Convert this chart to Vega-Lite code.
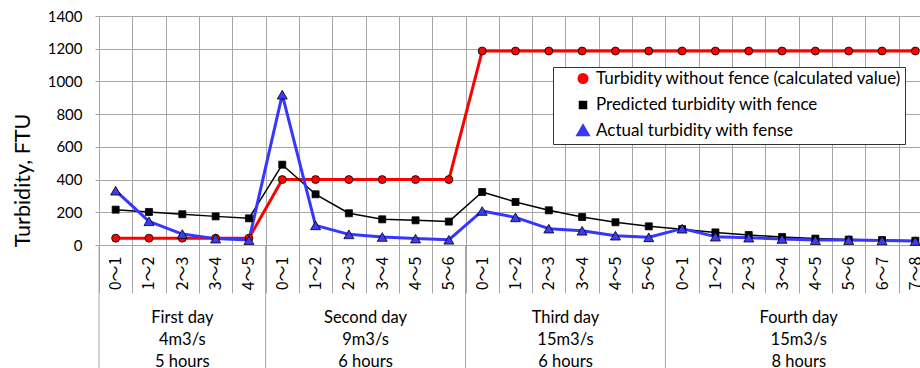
{
  "$schema": "https://vega.github.io/schema/vega-lite/v6.json",
  "width": 821,
  "height": 229,
  "autosize": {"type": "none"},
  "padding": {"left": 99, "top": 16, "right": 0, "bottom": 123},
  "background": "white",
  "config": {
    "view": {"stroke": null},
    "font": "Lato",
    "axisY": {
      "labelOverlap": false,
      "titleFontSize": 21.5,
      "titleFontWeight": "normal",
      "titleColor": "#000",
      "titleAngle": -90,
      "titleX": -76,
      "titleY": 164,
      "titleAlign": "center",
      "titleBaseline": "middle",
      "labelFontSize": 15,
      "labelColor": "#000",
      "labelPadding": 13,
      "tickSize": 4,
      "tickColor": "#a6a6a6",
      "domainColor": "#a6a6a6",
      "grid": true,
      "gridColor": "#a6a6a6",
      "gridOpacity": 1
    }
  },
  "datasets": {
    "main": [
      {"slot": "d1|0～1", "Turbidity without fence (calculated value)": 42, "Predicted turbidity with fence": 216, "Actual turbidity with fense": 332},
      {"slot": "d1|1～2", "Turbidity without fence (calculated value)": 42, "Predicted turbidity with fence": 202, "Actual turbidity with fense": 145},
      {"slot": "d1|2～3", "Turbidity without fence (calculated value)": 42, "Predicted turbidity with fence": 188, "Actual turbidity with fense": 67},
      {"slot": "d1|3～4", "Turbidity without fence (calculated value)": 42, "Predicted turbidity with fence": 175, "Actual turbidity with fense": 39},
      {"slot": "d1|4～5", "Turbidity without fence (calculated value)": 42, "Predicted turbidity with fence": 163, "Actual turbidity with fense": 30},
      {"slot": "d2|0～1", "Turbidity without fence (calculated value)": 400, "Predicted turbidity with fence": 491, "Actual turbidity with fense": 919},
      {"slot": "d2|1～2", "Turbidity without fence (calculated value)": 400, "Predicted turbidity with fence": 310, "Actual turbidity with fense": 120},
      {"slot": "d2|2～3", "Turbidity without fence (calculated value)": 400, "Predicted turbidity with fence": 194, "Actual turbidity with fense": 65},
      {"slot": "d2|3～4", "Turbidity without fence (calculated value)": 400, "Predicted turbidity with fence": 157, "Actual turbidity with fense": 49},
      {"slot": "d2|4～5", "Turbidity without fence (calculated value)": 400, "Predicted turbidity with fence": 151, "Actual turbidity with fense": 39},
      {"slot": "d2|5～6", "Turbidity without fence (calculated value)": 400, "Predicted turbidity with fence": 143, "Actual turbidity with fense": 32},
      {"slot": "d3|0～1", "Turbidity without fence (calculated value)": 1186, "Predicted turbidity with fence": 324, "Actual turbidity with fense": 208},
      {"slot": "d3|1～2", "Turbidity without fence (calculated value)": 1186, "Predicted turbidity with fence": 263, "Actual turbidity with fense": 169},
      {"slot": "d3|2～3", "Turbidity without fence (calculated value)": 1186, "Predicted turbidity with fence": 212, "Actual turbidity with fense": 100},
      {"slot": "d3|3～4", "Turbidity without fence (calculated value)": 1186, "Predicted turbidity with fence": 171, "Actual turbidity with fense": 87},
      {"slot": "d3|4～5", "Turbidity without fence (calculated value)": 1186, "Predicted turbidity with fence": 139, "Actual turbidity with fense": 57},
      {"slot": "d3|5～6", "Turbidity without fence (calculated value)": 1186, "Predicted turbidity with fence": 114, "Actual turbidity with fense": 47},
      {"slot": "d4|0～1", "Turbidity without fence (calculated value)": 1186, "Predicted turbidity with fence": 97, "Actual turbidity with fense": 100},
      {"slot": "d4|1～2", "Turbidity without fence (calculated value)": 1186, "Predicted turbidity with fence": 77, "Actual turbidity with fense": 51},
      {"slot": "d4|2～3", "Turbidity without fence (calculated value)": 1186, "Predicted turbidity with fence": 61, "Actual turbidity with fense": 45},
      {"slot": "d4|3～4", "Turbidity without fence (calculated value)": 1186, "Predicted turbidity with fence": 49, "Actual turbidity with fense": 37},
      {"slot": "d4|4～5", "Turbidity without fence (calculated value)": 1186, "Predicted turbidity with fence": 39, "Actual turbidity with fense": 30},
      {"slot": "d4|5～6", "Turbidity without fence (calculated value)": 1186, "Predicted turbidity with fence": 33, "Actual turbidity with fense": 30},
      {"slot": "d4|6～7", "Turbidity without fence (calculated value)": 1186, "Predicted turbidity with fence": 30, "Actual turbidity with fense": 28},
      {"slot": "d4|7～8", "Turbidity without fence (calculated value)": 1186, "Predicted turbidity with fence": 26, "Actual turbidity with fense": 24}
    ],
    "groupsOdd": [
      {"slot": "d1|2～3", "label": "First day\n4m3/s\n5 hours"}
    ],
    "groupsEven": [
      {"slot": "d2|3～4", "label": "Second day\n9m3/s\n6 hours"},
      {"slot": "d3|3～4", "label": "Third day\n15m3/s\n6 hours"},
      {"slot": "d4|4～5", "label": "Fourth day\n15m3/s\n8 hours"}
    ],
    "seps": [
      {"slot": "d1|0～1"},
      {"slot": "d2|0～1"},
      {"slot": "d3|0～1"},
      {"slot": "d4|0～1"}
    ]
  },
  "layer": [
    {
      "data": {"name": "main"},
      "transform": [
        {"fold": ["Turbidity without fence (calculated value)", "Predicted turbidity with fence", "Actual turbidity with fense"], "as": ["series", "value"]}
      ],
      "mark": {"type": "line", "strokeJoin": "round"},
      "encoding": {
        "x": {
          "field": "slot", "type": "nominal", "bandPosition": 0.5,
          "scale": {"type": "band", "range": [0, 833], "paddingInner": 0, "paddingOuter": 0},
          "axis": {
            "title": null,
            "labelExpr": "split(datum.label, '|')[1]",
            "labelAngle": -90,
            "labelAlign": "right",
            "labelBaseline": "middle",
            "labelFont": "Noto Sans CJK JP",
            "labelFontSize": 16,
            "labelColor": "#000",
            "labelPadding": -37,
            "labelOverlap": false,
            "tickBand": "extent",
            "tickSize": 48,
            "tickColor": "#a6a6a6",
            "domainColor": "#a6a6a6",
            "grid": true,
            "gridColor": "#a6a6a6",
            "gridOpacity": 1
          }
        },
        "y": {
          "field": "value", "type": "quantitative",
          "scale": {"domain": [0, 1400], "nice": false},
          "axis": {"values": [0, 200, 400, 600, 800, 1000, 1200, 1400], "tickCount": 10, "format": "d", "title": "Turbidity, FTU"}
        },
        "color": {
          "field": "series", "type": "nominal",
          "scale": {
            "domain": ["Turbidity without fence (calculated value)", "Predicted turbidity with fence", "Actual turbidity with fense"],
            "range": ["#ff0000", "#000000", "#3636ff"]
          },
          "legend": {
            "title": null,
            "orient": "none",
            "legendX": 454,
            "legendY": 51,
            "direction": "vertical",
            "labelFontSize": 17,
            "labelColor": "#000",
            "labelLimit": 0,
            "labelExpr": "datum.label + '\u00a0\u00a0\u00a0\u00a0\u00a0'",
            "symbolSize": 576,
            "symbolType": {"expr": "indexof(datum.value, 'without') >= 0 ? 'M-1,-0.11L-0.31,-0.11L-0.31,0.11L-1,0.11ZM0.31,-0.11L1,-0.11L1,0.11L0.31,0.11ZM-0.33,0A0.33,0.33 0 1,0 0.33,0A0.33,0.33 0 1,0 -0.33,0Z' : (indexof(datum.value, 'Predicted') >= 0 ? 'M-1,-0.06L-0.27,-0.06L-0.27,0.06L-1,0.06ZM0.27,-0.06L1,-0.06L1,0.06L0.27,0.06ZM-0.27,-0.27L0.27,-0.27L0.27,0.27L-0.27,0.27Z' : 'M-1,-0.11L-0.24,-0.11L-0.24,0.11L-1,0.11ZM0.24,-0.11L1,-0.11L1,0.11L0.24,0.11ZM0,-0.38L0.4,0.3L-0.4,0.3Z')"},
            "symbolFillColor": {"expr": "scale('color', datum.value)"},
            "symbolStrokeWidth": 1,
            "symbolOpacity": 1,
            "rowPadding": 6.5,
            "padding": 3,
            "symbolOffset": 18.5,
            "labelOffset": 4.5,
            "strokeColor": "#333333",
            "fillColor": "#ffffff"
          }
        },
        "strokeWidth": {
          "field": "series", "type": "nominal",
          "scale": {
            "type": "ordinal",
            "domain": ["Turbidity without fence (calculated value)", "Predicted turbidity with fence", "Actual turbidity with fense"],
            "range": [3, 1.5, 3]
          },
          "legend": null
        }
      }
    },
    {
      "data": {"name": "main"},
      "transform": [
        {"fold": ["Turbidity without fence (calculated value)", "Predicted turbidity with fence", "Actual turbidity with fense"], "as": ["series2", "value"]}
      ],
      "mark": {"type": "point", "filled": true, "stroke": "#000000", "strokeWidth": 0.8, "opacity": 1},
      "encoding": {
        "x": {"field": "slot", "type": "nominal", "bandPosition": 0.5, "scale": {"type": "band"}},
        "y": {
          "field": "value", "type": "quantitative",
          "axis": {"values": [0, 200, 400, 600, 800, 1000, 1200, 1400], "tickCount": 10, "format": "d", "title": "Turbidity, FTU"}
        },
        "fill": {
          "field": "series2", "type": "nominal",
          "scale": {
            "domain": ["Turbidity without fence (calculated value)", "Predicted turbidity with fence", "Actual turbidity with fense"],
            "range": ["#ff0000", "#000000", "#3c3cf5"]
          },
          "legend": null
        },
        "shape": {
          "field": "series2", "type": "nominal",
          "scale": {
            "domain": ["Turbidity without fence (calculated value)", "Predicted turbidity with fence", "Actual turbidity with fense"],
            "range": ["circle", "square", "triangle-up"]
          },
          "legend": null
        },
        "size": {
          "field": "series2", "type": "nominal",
          "scale": {
            "type": "ordinal",
            "domain": ["Turbidity without fence (calculated value)", "Predicted turbidity with fence", "Actual turbidity with fense"],
            "range": [64, 49, 100]
          },
          "legend": null
        }
      }
    },
    {
      "data": {"name": "seps"},
      "mark": {"type": "rule", "color": "#a6a6a6", "strokeWidth": 1},
      "encoding": {
        "x": {"field": "slot", "type": "nominal", "bandPosition": 0, "scale": {"type": "band"}},
        "y": {
          "datum": 0, "type": "quantitative",
          "axis": {"values": [0, 200, 400, 600, 800, 1000, 1200, 1400], "tickCount": 10, "format": "d", "title": "Turbidity, FTU"}
        },
        "y2": {"datum": -770}
      }
    },
    {
      "data": {"name": "groupsOdd"},
      "mark": {"type": "text", "lineBreak": "\n", "lineHeight": 22, "fontSize": 16.5, "color": "#000", "align": "center", "baseline": "middle"},
      "encoding": {
        "x": {"field": "slot", "type": "nominal", "bandPosition": 0.5, "scale": {"type": "band"}},
        "y": {
          "datum": -444, "type": "quantitative",
          "axis": {"values": [0, 200, 400, 600, 800, 1000, 1200, 1400], "tickCount": 10, "format": "d", "title": "Turbidity, FTU"}
        },
        "text": {"field": "label"}
      }
    },
    {
      "data": {"name": "groupsEven"},
      "mark": {"type": "text", "lineBreak": "\n", "lineHeight": 22, "fontSize": 16.5, "color": "#000", "align": "center", "baseline": "middle"},
      "encoding": {
        "x": {"field": "slot", "type": "nominal", "bandPosition": 0, "scale": {"type": "band"}},
        "y": {
          "datum": -444, "type": "quantitative",
          "axis": {"values": [0, 200, 400, 600, 800, 1000, 1200, 1400], "tickCount": 10, "format": "d", "title": "Turbidity, FTU"}
        },
        "text": {"field": "label"}
      }
    }
  ]
}
